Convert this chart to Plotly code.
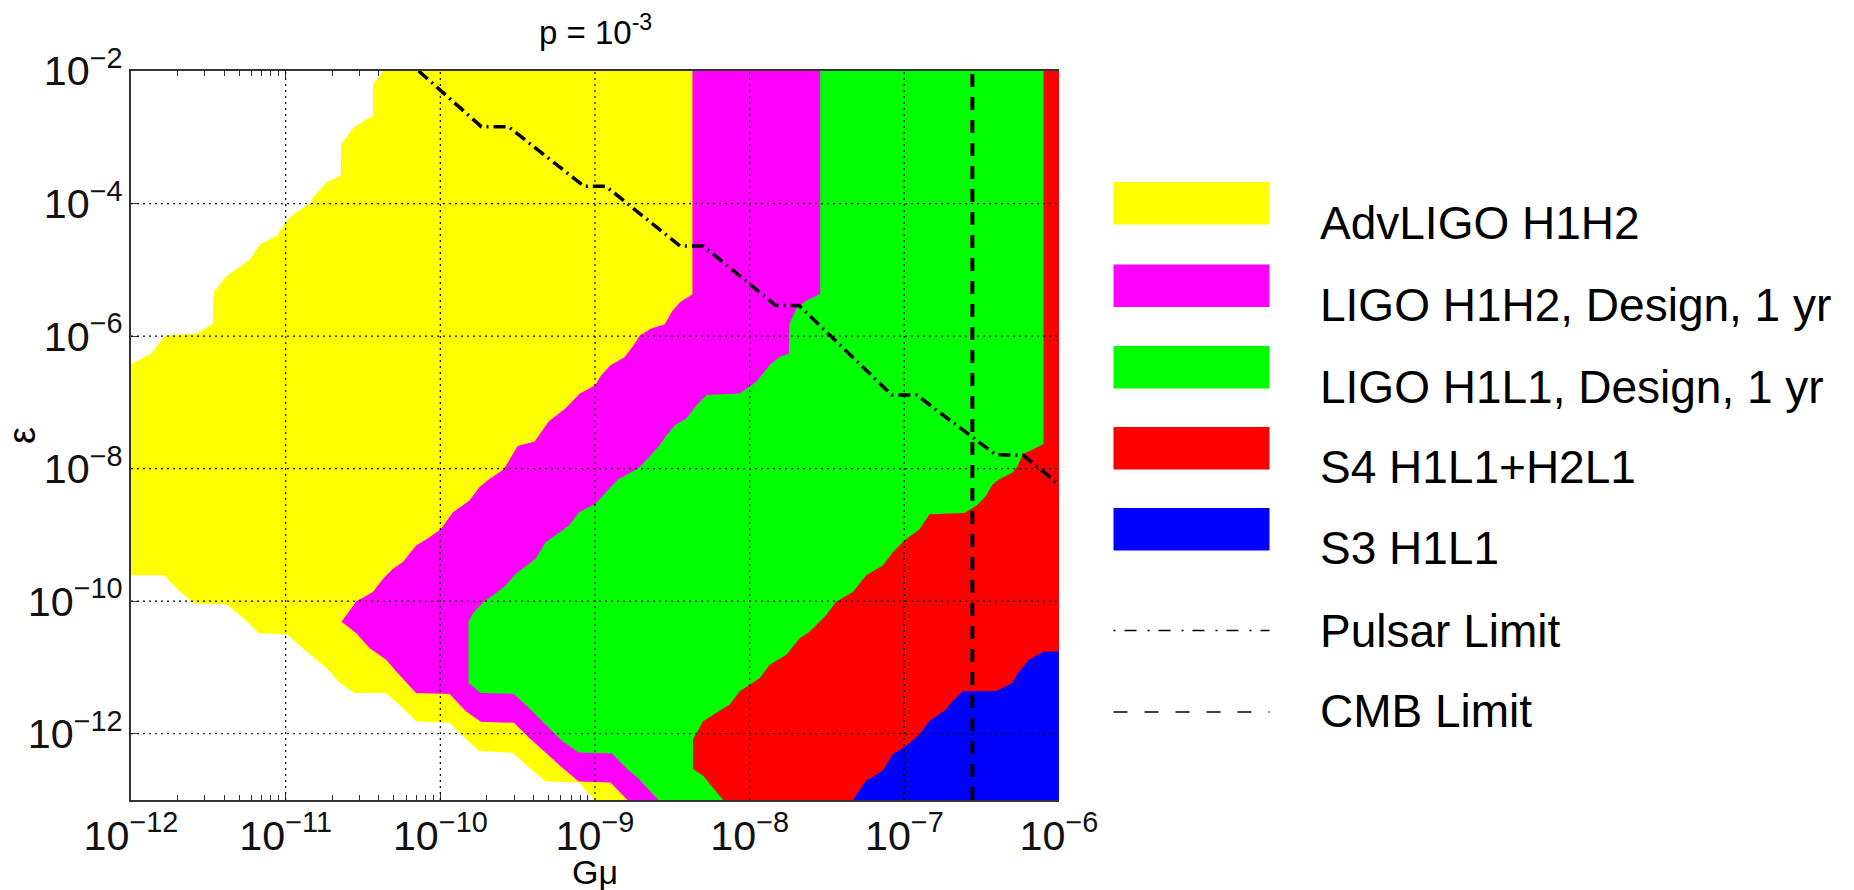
import plotly.graph_objects as go

# ---------------- data (log10 values) ----------------
# x = log10(G mu), y = log10(epsilon)
adv_h1h2_lgmu = [-10.367, -10.436, -10.436, -10.50, -10.564, -10.64, -10.644, -10.736, -10.822, -10.843,
                 -10.95, -10.994, -11.058, -11.165, -11.23, -11.38, -11.466, -11.47, -11.573, -11.777,
                 -11.873, -12.0, -12.0, -11.788, -11.68, -11.59, -11.38, -11.27, -11.176, -10.994,
                 -10.865, -10.736, -10.65, -10.554, -10.35, -10.242, -10.157, -9.94, -9.856, -9.749,
                 -9.534, -9.427, -9.32, -9.105, -9.0, -6.0, -6.0]
adv_h1h2_leps = [-2.0, -2.205, -2.68, -2.76, -2.86, -3.11, -3.58, -3.68, -3.91, -4.0,
                 -4.16, -4.26, -4.49, -4.61, -4.84, -5.09, -5.34, -5.81, -5.96, -5.99,
                 -6.27, -6.42, -9.61, -9.61, -9.86, -10.035, -10.05, -10.26, -10.485, -10.50,
                 -10.76, -11.01, -11.235, -11.385, -11.385, -11.61, -11.81, -11.835, -12.035, -12.26,
                 -12.285, -12.51, -12.72, -12.735, -13.0, -13.0, -2.0]

ligo_h1h2_lgmu = [-8.37, -8.37, -8.45, -8.50, -8.55, -8.64, -8.71, -8.75, -8.81, -8.90,
                  -8.96, -9.00, -9.10, -9.19, -9.30, -9.39, -9.50, -9.59, -9.685, -9.749,
                  -9.813, -9.92, -9.996, -10.07, -10.157, -10.242, -10.307, -10.37, -10.436, -10.543,
                  -10.585, -10.639, -10.543, -10.457, -10.35, -10.285, -10.157, -9.94, -9.835, -9.738,
                  -9.524, -9.427, -9.32, -9.213, -9.105, -8.90, -8.79, -6.0, -6.0]
ligo_h1h2_leps = [-2.0, -5.37, -5.49, -5.62, -5.82, -5.89, -5.99, -6.14, -6.32, -6.44,
                  -6.59, -6.74, -6.87, -7.09, -7.29, -7.59, -7.66, -8.01, -8.16, -8.285,
                  -8.485, -8.66, -8.91, -9.035, -9.16, -9.41, -9.51, -9.66, -9.86, -10.0,
                  -10.135, -10.31, -10.485, -10.71, -10.885, -11.06, -11.385, -11.40, -11.66, -11.82,
                  -11.835, -12.06, -12.285, -12.51, -12.72, -12.735, -13.0, -13.0, -2.0]

ligo_h1l1_lgmu = [-7.544, -7.544, -7.636, -7.70, -7.743, -7.747, -7.807, -7.872, -7.957, -8.064,
                  -8.278, -8.343, -8.407, -8.482, -8.535, -8.59, -8.68, -8.73, -8.81, -8.85,
                  -8.912, -8.998, -9.105, -9.17, -9.32, -9.384, -9.513, -9.577, -9.642, -9.717,
                  -9.79, -9.818, -9.818, -9.738, -9.524, -9.427, -9.32, -9.213, -9.105, -8.89,
                  -8.78, -8.726, -8.59, -6.0, -6.0]
ligo_h1l1_leps = [-2.0, -5.365, -5.465, -5.59, -5.815, -6.265, -6.315, -6.44, -6.69, -6.865,
                  -6.89, -7.04, -7.24, -7.34, -7.49, -7.67, -7.90, -8.01, -8.11, -8.16,
                  -8.31, -8.535, -8.66, -8.86, -9.11, -9.36, -9.585, -9.76, -9.885, -10.0,
                  -10.185, -10.31, -11.235, -11.385, -11.40, -11.61, -11.86, -12.11, -12.285, -12.30,
                  -12.56, -12.66, -13.0, -13.0, -2.0]

s4_lgmu = [-6.10, -6.10, -6.17, -6.234, -6.267, -6.30, -6.386, -6.43, -6.472, -6.525,
           -6.569, -6.612, -6.838, -6.903, -6.989, -7.075, -7.14, -7.247, -7.333, -7.441,
           -7.505, -7.613, -7.677, -7.763, -7.871, -7.935, -8.064, -8.129, -8.215, -8.301,
           -8.366, -8.366, -8.301, -8.237, -8.172, -6.0, -6.0]
s4_leps = [-2.0, -7.63, -7.71, -7.78, -7.96, -8.06, -8.16, -8.24, -8.41, -8.54,
           -8.61, -8.67, -8.69, -8.92, -9.06, -9.26, -9.46, -9.61, -9.86, -10.01,
           -10.21, -10.46, -10.56, -10.81, -10.96, -11.16, -11.36, -11.56, -11.685, -11.81,
           -12.085, -12.535, -12.635, -12.81, -13.0, -13.0, -2.0]

s3_lgmu = [-6.0, -6.097, -6.194, -6.258, -6.301, -6.409, -6.624, -6.688, -6.731, -6.839,
           -6.903, -6.989, -7.075, -7.14, -7.247, -7.333, -6.0]
s3_leps = [-10.76, -10.76, -10.885, -11.06, -11.235, -11.36, -11.36, -11.51, -11.635, -11.81,
           -12.01, -12.185, -12.31, -12.56, -12.71, -13.0, -13.0]

pulsar_lgmu = [-10.14, -9.735, -9.56, -9.07, -8.93, -8.45, -8.30, -7.83, -7.68, -7.08, -6.92, -6.41, -6.23, -6.0]
pulsar_leps = [-2.0, -2.84, -2.84, -3.74, -3.74, -4.64, -4.64, -5.54, -5.54, -6.89, -6.89, -7.79, -7.80, -8.24]

cmb_lgmu = -6.56

region_names = ["AdvLIGO H1H2", "LIGO H1H2, Design, 1 yr", "LIGO H1L1, Design, 1 yr",
                "S4 H1L1+H2L1", "S3 H1L1"]
region_colors = ["#FFFF00", "#FF00FF", "#00FF00", "#FF0000", "#0000FF"]
region_lgmu = [adv_h1h2_lgmu, ligo_h1h2_lgmu, ligo_h1l1_lgmu, s4_lgmu, s3_lgmu]
region_leps = [adv_h1h2_leps, ligo_h1h2_leps, ligo_h1l1_leps, s4_leps, s3_leps]
line_names = ["Pulsar Limit", "CMB Limit"]

x_range = [-12, -6]
y_range = [-13, -2]
x_grid = [-11, -10, -9, -8, -7]
y_grid = [-4, -6, -8, -10, -12]

FONT = "Liberation Sans, Arial, sans-serif"

fig = go.Figure()

for name, lg, le, col in zip(region_names, region_lgmu, region_leps, region_colors):
    fig.add_trace(go.Scatter(
        x=[10 ** v for v in lg], y=[10 ** v for v in le],
        mode="lines", fill="toself", fillcolor=col,
        line=dict(width=0, color=col), name=name, showlegend=False, hoverinfo="skip"))

# dotted grid drawn over the filled regions
gx, gy = [], []
for v in x_grid:
    gx += [10 ** v, 10 ** v, None]
    gy += [10 ** y_range[0], 10 ** y_range[1], None]
for v in y_grid:
    gx += [10 ** x_range[0], 10 ** x_range[1], None]
    gy += [10 ** v, 10 ** v, None]
fig.add_trace(go.Scatter(x=gx, y=gy, mode="lines", showlegend=False, hoverinfo="skip",
                         line=dict(color="black", width=1.2, dash="2px,4px")))

fig.add_trace(go.Scatter(
    x=[10 ** v for v in pulsar_lgmu], y=[10 ** v for v in pulsar_leps],
    mode="lines", name=line_names[0], showlegend=False, hoverinfo="skip",
    line=dict(color="black", width=3.5, dash="12px,5px,2px,5px")))

fig.add_trace(go.Scatter(
    x=[10 ** cmb_lgmu, 10 ** cmb_lgmu], y=[10 ** y_range[0], 10 ** y_range[1]],
    mode="lines", name=line_names[1], showlegend=False, hoverinfo="skip",
    line=dict(color="black", width=4, dash="13px,10px")))

# ---------------- layout ----------------
PL, PR, PT, PB = 131, 1059, 71, 800
def px(x):
    return (x - PL) / (PR - PL)
def py(y):
    return (PB - y) / (PB - PT)

axis_common = dict(showgrid=False, zeroline=False, showline=True, linecolor="#333333", linewidth=1.5,
                   ticks="inside", tickcolor="#333333", ticklen=8, tickwidth=1,
                   layer="below traces", exponentformat="power",
                   tickfont=dict(family=FONT, size=33, color="#111111"))

fig.update_layout(
    width=1854, height=890,
    margin=dict(l=PL, r=1854 - PR, t=PT, b=890 - PB),
    paper_bgcolor="white", plot_bgcolor="white",
    showlegend=False,
    xaxis=dict(type="log", range=x_range, dtick=1, tick0=0, mirror="ticks",
               minor=dict(ticks="inside", ticklen=5, dtick="D1", tickcolor="#333333", showgrid=False),
               **axis_common),
    yaxis=dict(type="log", range=y_range, dtick=2, tick0=0, mirror=False, **axis_common),
)

shapes = []
annotations = []
sw_x0, sw_x1 = px(1113.5), px(1269.5)
sw_tops = [182, 264.5, 346, 427, 508]
sw_h = 42.5
for top, col in zip(sw_tops, region_colors):
    shapes.append(dict(type="rect", xref="paper", yref="paper", x0=sw_x0, x1=sw_x1,
                       y0=py(top + sw_h), y1=py(top), fillcolor=col, line=dict(width=0)))
line_ys = [630.5, 712]
line_dashes = ["2px,9px,12px,11px", "14px,17px"]
for ly, dsh in zip(line_ys, line_dashes):
    shapes.append(dict(type="line", xref="paper", yref="paper", x0=sw_x0, x1=sw_x1,
                       y0=py(ly), y1=py(ly), line=dict(color="black", width=1.5, dash=dsh)))
text_ys = [223, 304.5, 386.5, 466.5, 547.5, 630.5, 711]
for ty, label in zip(text_ys, region_names + line_names):
    annotations.append(dict(xref="paper", yref="paper", x=px(1318), y=py(ty), text=label,
                            showarrow=False, xanchor="left", yanchor="middle",
                            font=dict(family=FONT, size=46, color="black")))

annotations.append(dict(xref="paper", yref="paper", x=0.5, y=py(53), text="p = 10<sup>-3</sup>",
                        showarrow=False, xanchor="center", yanchor="bottom",
                        font=dict(family=FONT, size=33, color="black")))
annotations.append(dict(xref="paper", yref="paper", x=0.5, y=py(872), text="Gμ",
                        showarrow=False, xanchor="center", yanchor="middle",
                        font=dict(family=FONT, size=34, color="black")))
annotations.append(dict(xref="paper", yref="paper", x=px(22), y=py(436), text="ε", textangle=-90,
                        showarrow=False, xanchor="center", yanchor="middle",
                        font=dict(family=FONT, size=38, color="black")))

fig.update_layout(shapes=shapes, annotations=annotations)

fig.write_html("out.html")
